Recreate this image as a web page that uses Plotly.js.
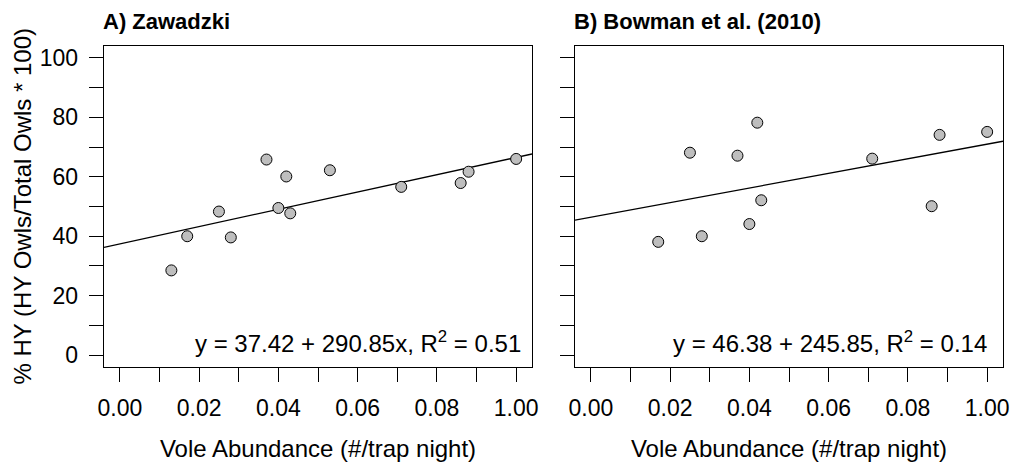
<!DOCTYPE html>
<html>
<head>
<meta charset="utf-8">
<script src="https://cdn.plot.ly/plotly-3.0.1.min.js"></script>
<style>html,body{margin:0;padding:0;background:#fff;}#chart{width:1014px;height:466px;}</style>
</head>
<body>
<div id="chart"></div>
<script>
// Panel A: Zawadzki
const voleA = [0.013, 0.017, 0.025, 0.028, 0.037, 0.040, 0.042, 0.043, 0.053, 0.071, 0.086, 0.088, 0.100];
const hyA   = [28.5, 40.0, 48.3, 39.6, 65.8, 49.5, 60.1, 47.7, 62.2, 56.6, 57.9, 61.7, 66.0];
const interceptA = 37.42, slopeA = 290.85;
const labelA = "y = 37.42 + 290.85x, R<sup>2</sup> = 0.51";
const titleA = "A) Zawadzki";

// Panel B: Bowman et al. (2010)
const voleB = [0.017, 0.025, 0.028, 0.037, 0.040, 0.042, 0.043, 0.071, 0.086, 0.088, 0.100];
const hyB   = [38.1, 68.1, 40.0, 67.1, 44.1, 78.2, 52.1, 66.1, 50.1, 74.1, 75.1];
const interceptB = 46.38, slopeB = 245.85;
const labelB = "y = 46.38 + 245.85, R<sup>2</sup> = 0.14";
const titleB = "B) Bowman et al. (2010)";

const xTickVals = [0, 0.02, 0.04, 0.06, 0.08, 0.10];
const xTickText = ["0.00", "0.02", "0.04", "0.06", "0.08", "1.00"];
const xMinorStep = 0.01;
const yTickVals = [0, 20, 40, 60, 80, 100];
const yTickText = ["0", "20", "40", "60", "80", "100"];
const yMinorStep = 10;
const xTitle = "Vole Abundance (#/trap night)";
const yTitle = "% HY (HY Owls/Total Owls * 100)";

const xRange = [-0.004, 0.104];
const yRange = [-4, 104];
const FONT = "Liberation Sans, Arial, sans-serif";

function fitLine(b0, b1) { return xRange.map(x => b0 + b1 * x); }

const markerStyle = {size: 11, color: "#BEBEBE", line: {color: "#000", width: 1}};
const traces = [
  {x: xRange, y: fitLine(interceptA, slopeA), mode: "lines", line: {color: "#000", width: 1.3}, xaxis: "x", yaxis: "y", hoverinfo: "skip"},
  {x: voleA, y: hyA, mode: "markers", marker: markerStyle, xaxis: "x", yaxis: "y"},
  {x: xRange, y: fitLine(interceptB, slopeB), mode: "lines", line: {color: "#000", width: 1.3}, xaxis: "x2", yaxis: "y2", hoverinfo: "skip"},
  {x: voleB, y: hyB, mode: "markers", marker: markerStyle, xaxis: "x2", yaxis: "y2"}
];

const W = 1014, H = 466;
const yDom = [1 - 367 / H, 1 - 46 / H];
function xAxis(domain, anchor) {
  return {
    domain: domain, range: xRange, anchor: anchor,
    tickmode: "array", tickvals: xTickVals, ticktext: xTickText,
    ticks: "outside", ticklen: 14, tickwidth: 1, tickcolor: "#000",
    minor: {tickmode: "linear", tick0: 0, dtick: xMinorStep, ticks: "outside", ticklen: 14, tickwidth: 1, tickcolor: "#000", showgrid: false},
    showline: true, mirror: true, linecolor: "#000", linewidth: 1.3,
    showgrid: false, zeroline: false, tickfont: {size: 23, color: "#000", family: FONT},
    ticklabelstandoff: 6,
    title: {text: xTitle, font: {size: 24, color: "#000", family: FONT}, standoff: 20},
    automargin: false, fixedrange: true
  };
}
function yAxis(domain, showLabels, anchor) {
  return {
    domain: domain, range: yRange, anchor: anchor,
    tickmode: "array", tickvals: yTickVals, ticktext: yTickText,
    showticklabels: showLabels,
    ticks: "outside", ticklen: 14, tickwidth: 1, tickcolor: "#000",
    minor: {tickmode: "linear", tick0: 0, dtick: yMinorStep, ticks: "outside", ticklen: 14, tickwidth: 1, tickcolor: "#000", showgrid: false},
    showline: true, mirror: true, linecolor: "#000", linewidth: 1.3,
    showgrid: false, zeroline: false, tickfont: {size: 23, color: "#000", family: FONT},
    ticklabelstandoff: 6,
    automargin: false, fixedrange: true
  };
}

const layout = {
  width: W, height: H,
  margin: {l: 0, r: 0, t: 0, b: 0},
  paper_bgcolor: "#fff", plot_bgcolor: "#fff",
  showlegend: false,
  font: {family: FONT, color: "#000"},
  xaxis: xAxis([104 / W, 532 / W], "y"),
  yaxis: yAxis(yDom, true, "x"),
  xaxis2: xAxis([575 / W, 1003 / W], "y2"),
  yaxis2: yAxis(yDom, false, "x2"),
  annotations: [
    {text: yTitle, xref: "paper", yref: "y domain", x: 22 / W, y: 0.5, xanchor: "center", yanchor: "middle", textangle: -90, showarrow: false, font: {size: 24, family: FONT, color: "#000"}},
    {text: titleA, xref: "x domain", yref: "paper", x: -3 / 428, y: 1 - 21 / H, xanchor: "left", yanchor: "middle", showarrow: false, font: {size: 22, family: FONT, color: "#000", weight: "bold"}},
    {text: titleB, xref: "x2 domain", yref: "paper", x: -3 / 428, y: 1 - 21 / H, xanchor: "left", yanchor: "middle", showarrow: false, font: {size: 22, family: FONT, color: "#000", weight: "bold"}},
    {text: labelA, xref: "x domain", yref: "paper", x: (523 - 104) / 428, y: 1 - 342 / H, xanchor: "right", yanchor: "middle", showarrow: false, font: {size: 24, family: FONT, color: "#000"}},
    {text: labelB, xref: "x2 domain", yref: "paper", x: (989 - 575) / 428, y: 1 - 342 / H, xanchor: "right", yanchor: "middle", showarrow: false, font: {size: 24, family: FONT, color: "#000"}}
  ]
};

Plotly.newPlot("chart", traces, layout, {displayModeBar: false, staticPlot: true});
</script>
</body>
</html>
